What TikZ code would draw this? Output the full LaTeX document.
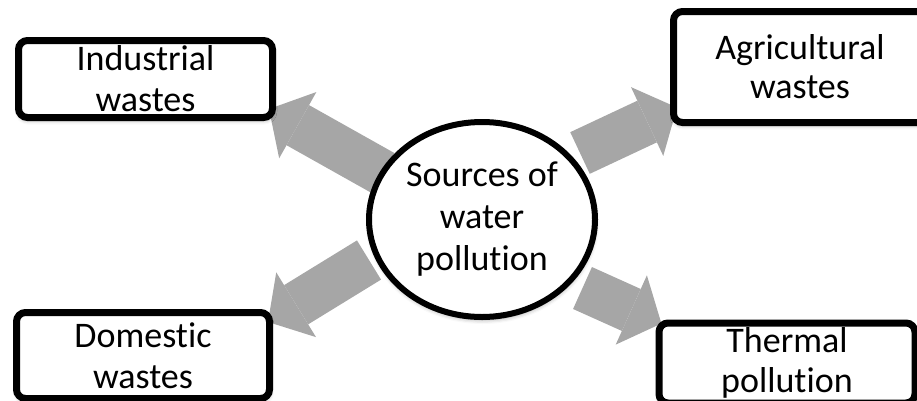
\documentclass[tikz,border=0pt]{standalone}
\usepackage{fontspec}
\setmainfont{Carlito}[Ligatures={TeX,NoCommon}]
\usetikzlibrary{arrows.meta,shapes.geometric,shadows.blur}
\definecolor{arrowgray}{RGB}{166,166,166}
\begin{document}
\begin{tikzpicture}[x=1pt,y=-1pt,
  labeltext/.style={font=\fontsize{36}{41}\selectfont, align=center},
  softshadow/.style={blur shadow={shadow xshift=0.5pt, shadow yshift=-3pt,
      shadow blur radius=4pt, shadow opacity=35}},
  sourcebox/.style={labeltext, draw=black, fill=white, line width=7pt,
      rounded corners=9pt, inner sep=0pt, softshadow},
  hub/.style={labeltext, font=\fontsize{36}{42}\selectfont, ellipse,
      draw=black, fill=white, line width=6pt, inner sep=0pt,
      minimum width=226pt, minimum height=195pt, softshadow},
  blockarrow/.style={draw=arrowgray, fill=arrowgray, line width=46pt,
      -{Triangle[length=33pt,width=76pt,line width=0pt]}}
]
\useasboundingbox (0,0) rectangle (917,400);

% base and tip of each block arrow
\coordinate (tlbase) at (383,173);
\coordinate (tltip)  at (269,109);
\coordinate (trbase) at (580,153);
\coordinate (trtip)  at (677,107.5);
\coordinate (blbase) at (369,260);
\coordinate (bltip)  at (268,322);
\coordinate (brbase) at (582.5,288);
\coordinate (brtip)  at (661.4,323.5);

% block arrows, drawn first so the shapes cover their ends
\draw[blockarrow] (tlbase) -- (tltip);
\draw[blockarrow] (trbase) -- (trtip);
\draw[blockarrow] (blbase) -- (bltip);
\draw[blockarrow] (brbase) -- (brtip);

% central ellipse
\node[hub] (sources) at (482,219.5) {Sources of\\water\\pollution};

% the four sources
\node[sourcebox, minimum width=254pt, minimum height=77pt]
  (industrial) at (145.5,79) {Industrial\\wastes};
\node[sourcebox, minimum width=253pt, minimum height=111pt, font=\fontsize{36}{39}\selectfont]
  (agricultural) at (800,67) {Agricultural\\wastes};
\node[sourcebox, minimum width=253pt, minimum height=86pt]
  (domestic) at (143,355.5) {Domestic\\wastes};
\node[sourcebox, minimum width=256pt, minimum height=80pt, font=\fontsize{36}{40}\selectfont]
  (thermal) at (787,363) {Thermal\\pollution};
\end{tikzpicture}
\end{document}
